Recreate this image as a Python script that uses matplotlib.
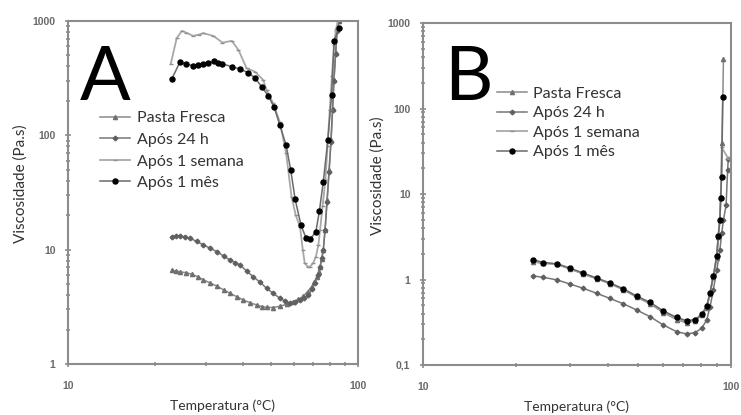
import matplotlib.pyplot as plt
from matplotlib.ticker import LogLocator, NullFormatter, FixedLocator, FixedFormatter

# ---- panel A data (temperature in C, viscosity in Pa.s) ----
temp_a_fresca = [22.8, 23.5, 24.3, 25.5, 26.7, 28.0, 29.3, 31.0, 32.6, 34.4, 36.2, 38.2,
                 40.2, 42.5, 44.8, 46.6, 48.4, 51.0, 53.8, 56.8, 59.8, 62.3, 64.7, 67.0,
                 69.2, 70.7, 72.1, 73.1, 74.0, 75.0, 75.9, 77.0, 78.2, 79.5, 80.7, 81.7,
                 82.6, 83.7, 84.7, 85.9]
visc_a_fresca = [6.6, 6.5, 6.4, 6.3, 6.1, 5.8, 5.45, 5.1, 4.8, 4.45, 4.15, 3.88,
                 3.63, 3.43, 3.28, 3.18, 3.13, 3.12, 3.2, 3.33, 3.5, 3.68, 3.9, 4.3,
                 4.75, 5.2, 5.8, 6.4, 7.1, 8.3, 9.9, 15, 27, 50, 91, 170,
                 305, 520, 836, 1000]

temp_a_24h = [22.8, 23.5, 24.3, 25.3, 26.3, 27.8, 29.3, 30.9, 32.6, 34.4, 36.2, 37.7,
              39.2, 41.3, 43.5, 45.9, 48.4, 51.0, 53.8, 56.0, 58.3, 60.7, 63.1, 65.2,
              67.4, 69.3, 71.1, 72.6, 74.0, 75.0, 75.9, 77.0, 78.2, 79.5, 80.7, 81.7,
              82.6, 83.7, 84.7, 85.9]
visc_a_24h = [13.0, 13.2, 13.2, 12.9, 12.6, 11.8, 11.0, 10.3, 9.6, 8.8, 8.1, 7.7,
              7.35, 6.5, 5.8, 5.2, 4.6, 4.15, 3.76, 3.55, 3.4, 3.48, 3.63, 3.8,
              4.0, 4.5, 5.1, 6.0, 7.1, 8.4, 9.9, 15, 26, 48, 88, 165,
              300, 510, 820, 1000]

temp_a_semana = [22.6, 23.7, 24.7, 25.6, 27.0, 28.2, 29.3, 31.7, 34.1, 36.7, 38.7, 41.3,
                 44.1, 47.1, 48.4, 51.0, 53.8, 56.5, 59.0, 61.0, 63.1, 64.5, 65.5, 67.0,
                 68.3, 70.0, 71.6, 73.0, 74.0, 75.5, 77.2, 78.5, 79.9, 81.3, 82.6, 84.0,
                 85.2]
visc_a_semana = [420, 707, 819, 790, 741, 760, 782, 741, 647, 670, 559, 386,
                 361, 305, 250, 190, 130, 70, 29, 20, 15.9, 10, 7.65, 7.1,
                 7.1, 7.6, 8.7, 11, 14.9, 24, 40.7, 80, 167, 330, 617, 850,
                 1000]

temp_a_mes = [22.8, 24.3, 25.5, 26.9, 28.0, 29.1, 30.4, 31.8, 33.0, 34.1, 36.7, 39.2,
              41.8, 44.1, 46.5, 49.1, 51.4, 53.8, 56.5, 58.6, 60.7, 63.6, 66.2, 68.3,
              71.6, 73.6, 75.9, 78.7, 81.1, 82.8, 85.9]
visc_a_mes = [311, 436, 420, 407, 410, 419, 430, 445, 430, 421, 399, 379,
              354, 318, 267, 221, 176, 122, 82, 50, 27.6, 16.4, 12.6, 12.3,
              14.4, 21.8, 39, 91, 226, 674, 865]

# ---- panel B data ----
temp_b_fresca = [22.8, 24.6, 27.2, 30.0, 33.1, 36.6, 40.5, 44.7, 49.4, 54.6, 60.3, 66.6,
                 71.8, 76.4, 80.3, 83.4, 85.5, 87.6, 89.9, 90.9, 92.0, 92.6, 93.6, 94.5]
visc_b_fresca = [1.6, 1.55, 1.5, 1.33, 1.16, 1.02, 0.89, 0.76, 0.62, 0.52, 0.41, 0.34,
                 0.31, 0.33, 0.38, 0.47, 0.68, 1.06, 1.8, 3.1, 4.9, 9.3, 40, 380]

temp_b_24h = [22.8, 24.6, 27.2, 30.0, 33.1, 36.6, 40.5, 44.7, 49.4, 54.6, 60.3, 66.6,
              71.8, 76.4, 80.3, 83.4, 85.5, 87.6, 89.9, 92.0, 93.3, 94.5, 96.4, 97.5, 98.0]
visc_b_24h = [1.10, 1.06, 0.99, 0.886, 0.79, 0.69, 0.60, 0.52, 0.44, 0.367, 0.294, 0.245,
              0.231, 0.239, 0.269, 0.336, 0.48, 0.75, 1.29, 2.21, 3.47, 4.97, 7.4, 19, 26]

temp_b_semana = [22.8, 24.6, 27.2, 30.0, 33.1, 36.6, 40.5, 44.7, 49.4, 54.6, 60.3, 66.6,
                 71.8, 76.4, 80.3, 83.4, 85.5, 87.6, 89.9, 90.9, 92.0, 92.6, 93.0, 93.3, 98.0]
visc_b_semana = [1.62, 1.56, 1.51, 1.34, 1.17, 1.03, 0.90, 0.77, 0.63, 0.53, 0.42, 0.35,
                 0.32, 0.335, 0.385, 0.48, 0.69, 1.08, 1.85, 3.17, 4.97, 9.3, 16, 35, 26]

temp_b_mes = [22.8, 24.6, 27.2, 30.0, 33.1, 36.6, 40.5, 44.7, 49.4, 54.6, 60.3, 66.6,
              71.8, 76.4, 80.3, 83.4, 85.5, 87.6, 89.9, 90.9, 92.0, 92.6, 93.2, 94.0]
visc_b_mes = [1.7, 1.58, 1.53, 1.36, 1.19, 1.04, 0.91, 0.78, 0.64, 0.54, 0.43, 0.36,
              0.33, 0.34, 0.39, 0.49, 0.70, 1.1, 1.9, 3.2, 5.0, 9.0, 16, 135]

labels = ["Pasta Fresca", "Após 24 h", "Após 1 semana", "Após 1 mês"]
styles = [
    dict(color="#8a8a8a", marker="^", ms=3.0, lw=1.1, mfc="#707070", mec="#707070"),
    dict(color="#777777", marker="D", ms=2.4, lw=1.1, mfc="#606060", mec="#606060"),
    dict(color="#a8a8a8", marker="_", ms=3.0, lw=1.3, mfc="#909090", mec="#909090"),
    dict(color="#6a6a6a", marker="o", ms=3.6, lw=1.1, mfc="black", mec="black"),
]

TXT = ["Lato", "DejaVu Sans"]
TICK = ["Liberation Sans", "DejaVu Sans"]


def style_axes(ax, ymin, ymax, yticks, yticklabels):
    ax.set_xscale("log")
    ax.set_yscale("log")
    ax.set_xlim(10, 100)
    ax.set_ylim(ymin, ymax)
    for sp in ax.spines.values():
        sp.set_color("#8c8c8c")
        sp.set_linewidth(1.5)
    ax.xaxis.set_major_locator(FixedLocator([10, 100]))
    ax.xaxis.set_major_formatter(FixedFormatter(["10", "100"]))
    ax.xaxis.set_minor_locator(LogLocator(base=10, subs=range(2, 10)))
    ax.xaxis.set_minor_formatter(NullFormatter())
    ax.yaxis.set_major_locator(FixedLocator(yticks))
    ax.yaxis.set_major_formatter(FixedFormatter(yticklabels))
    ax.yaxis.set_minor_locator(LogLocator(base=10, subs=range(2, 10)))
    ax.yaxis.set_minor_formatter(NullFormatter())
    ax.tick_params(which="both", direction="inout", color="#8c8c8c", width=1.2,
                   top=False, right=False)
    ax.tick_params(which="major", length=4)
    ax.tick_params(which="minor", length=3)
    ax.tick_params(axis="x", which="major", pad=10)
    ax.tick_params(axis="y", which="major", pad=7)
    for t in ax.get_xticklabels() + ax.get_yticklabels():
        t.set_fontsize(7.5)
        t.set_color("#6a6a6a")
        t.set_fontweight("bold")
        t.set_family(TICK)


fig = plt.figure(figsize=(7.41, 4.15), dpi=100)
fig.patch.set_facecolor("white")

ax_a = fig.add_axes([68 / 741, 1 - 364 / 415, 290 / 741, 343 / 415])
ax_b = fig.add_axes([423 / 741, 1 - 365 / 415, 308 / 741, 342 / 415])

series_a = [(temp_a_fresca, visc_a_fresca), (temp_a_24h, visc_a_24h),
            (temp_a_semana, visc_a_semana), (temp_a_mes, visc_a_mes)]
series_b = [(temp_b_fresca, visc_b_fresca), (temp_b_24h, visc_b_24h),
            (temp_b_semana, visc_b_semana), (temp_b_mes, visc_b_mes)]

for ax, series in [(ax_a, series_a), (ax_b, series_b)]:
    for (t, v), lab, st in zip(series, labels, styles):
        ax.plot(t, v, label=lab, clip_on=True, **st)

style_axes(ax_a, 1, 1000, [1, 10, 100, 1000], ["1", "10", "100", "1000"])
style_axes(ax_b, 0.1, 1000, [0.1, 1, 10, 100, 1000], ["0,1", "1", "10", "100", "1000"])

for ax, lx, ly, xl in [(ax_a, -0.165, 0.525, 0.534), (ax_b, -0.149, 0.553, 0.5)]:
    ax.set_ylabel("Viscosidade (Pa.s)", fontsize=11, family=TXT, color="#333333",
                  va="center")
    ax.yaxis.set_label_coords(lx, ly)
    ax.set_xlabel("Temperatura (°C)", fontsize=10, family=TXT, color="#333333")
    ax.xaxis.set_label_coords(xl, -0.103)

leg_a = ax_a.legend(loc="center left", bbox_to_anchor=(0.11, 0.622), frameon=False,
                    borderpad=0, borderaxespad=0, handlelength=1.9, handletextpad=0.45,
                    labelspacing=0.46, prop={"family": TXT, "size": 11.5})
leg_b = ax_b.legend(loc="center left", bbox_to_anchor=(0.24, 0.708), frameon=False,
                    borderpad=0, borderaxespad=0, handlelength=1.9, handletextpad=0.35,
                    labelspacing=0.33, prop={"family": TXT, "size": 11.5})
for leg in (leg_a, leg_b):
    for t in leg.get_texts():
        t.set_color("#333333")

fig.text(80 / 741, 1 - 100 / 415, "A", fontsize=54, family=TXT, va="baseline", ha="left")
fig.text(444 / 741, 1 - 100 / 415, "B", fontsize=54, family=TXT, va="baseline", ha="left")

fig.savefig("out.png", dpi=100, facecolor="white")
